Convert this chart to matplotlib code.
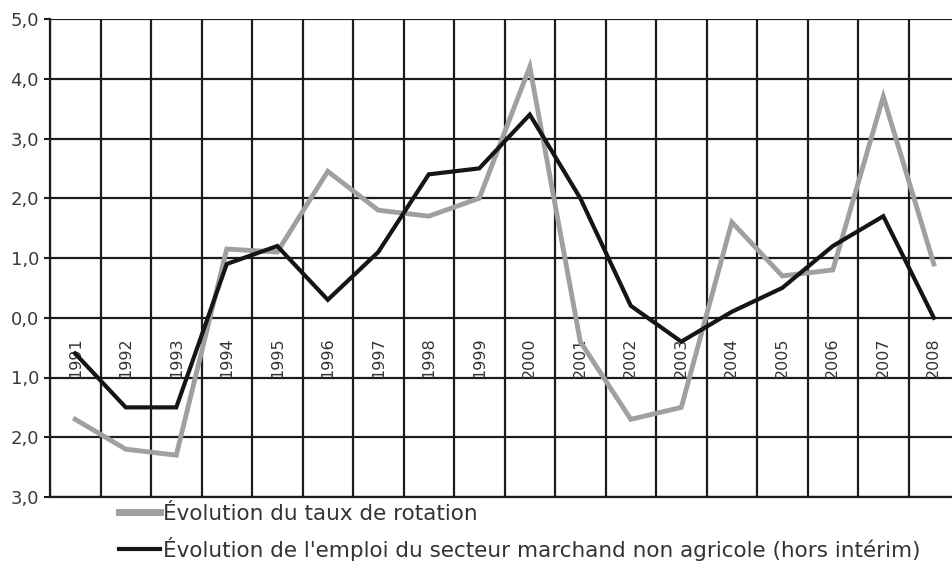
import matplotlib.pyplot as plt
import numpy as np

years = ['1991', '1992', '1993', '1994', '1995', '1996', '1997', '1998', '1999',
         '2000', '2001', '2002', '2003', '2004', '2005', '2006', '2007', '2008']
taux_rotation = [-1.7, -2.2, -2.3, 1.15, 1.1, 2.45, 1.8, 1.7, 2.0,
                 4.2, -0.4, -1.7, -1.5, 1.6, 0.7, 0.8, 3.7, 0.9]
emploi = [-0.6, -1.5, -1.5, 0.9, 1.2, 0.3, 1.1, 2.4, 2.5,
          3.4, 2.0, 0.2, -0.4, 0.1, 0.5, 1.2, 1.7, 0.0]
y_ticks = [-3, -2, -1, 0, 1, 2, 3, 4, 5]
y_labels = ['3,0', '2,0', '1,0', '0,0', '1,0', '2,0', '3,0', '4,0', '5,0']
labels = ["Évolution du taux de rotation",
          "Évolution de l'emploi du secteur marchand non agricole (hors intérim)"]

fig = plt.figure(figsize=(9.52, 5.63), dpi=100)
ax = fig.add_axes([50 / 952, 1 - 497 / 563, 1 - 50 / 952, (497 - 19) / 563])

x = np.arange(len(years))
grid_col = '#1c1c1c'

ax.set_xlim(-0.5, 17.36)
ax.set_ylim(-3, 5)
ax.set_xticks(np.arange(-0.5, len(years) - 0.5, 1))
ax.set_xticklabels([])
ax.tick_params(axis='x', length=0)
ax.set_yticks(y_ticks)
ax.set_yticklabels(y_labels)
ax.tick_params(axis='y', length=4, width=1.5, color=grid_col, labelsize=13,
               labelcolor='#3a3a3a', pad=4)
ax.grid(True, color=grid_col, linewidth=1.6)
ax.set_axisbelow(True)

for side in ['top', 'right']:
    ax.spines[side].set_visible(False)
for side in ['left', 'bottom']:
    ax.spines[side].set_color(grid_col)
    ax.spines[side].set_linewidth(1.6)

for i, yr in enumerate(years):
    ax.text(i, -1.0, yr, rotation=90, ha='center', va='bottom', fontsize=11.5,
            color='#333333', zorder=2)

ax.plot(x, taux_rotation, color='#a0a0a0', linewidth=3.5, label=labels[0],
        zorder=3, solid_joinstyle='miter')
ax.plot(x, emploi, color='#151515', linewidth=3, label=labels[1],
        zorder=4, solid_joinstyle='miter')

leg = ax.legend(loc='upper left', bbox_to_anchor=(69 / 902, -0.014), frameon=False,
                fontsize=15.5, handlelength=1.9, handletextpad=0.15,
                labelspacing=0.6, borderpad=0, borderaxespad=0)
for t in leg.get_texts():
    t.set_color('#333333')
leg.get_lines()[0].set_linewidth(5)

fig.savefig('out.png', dpi=100)
